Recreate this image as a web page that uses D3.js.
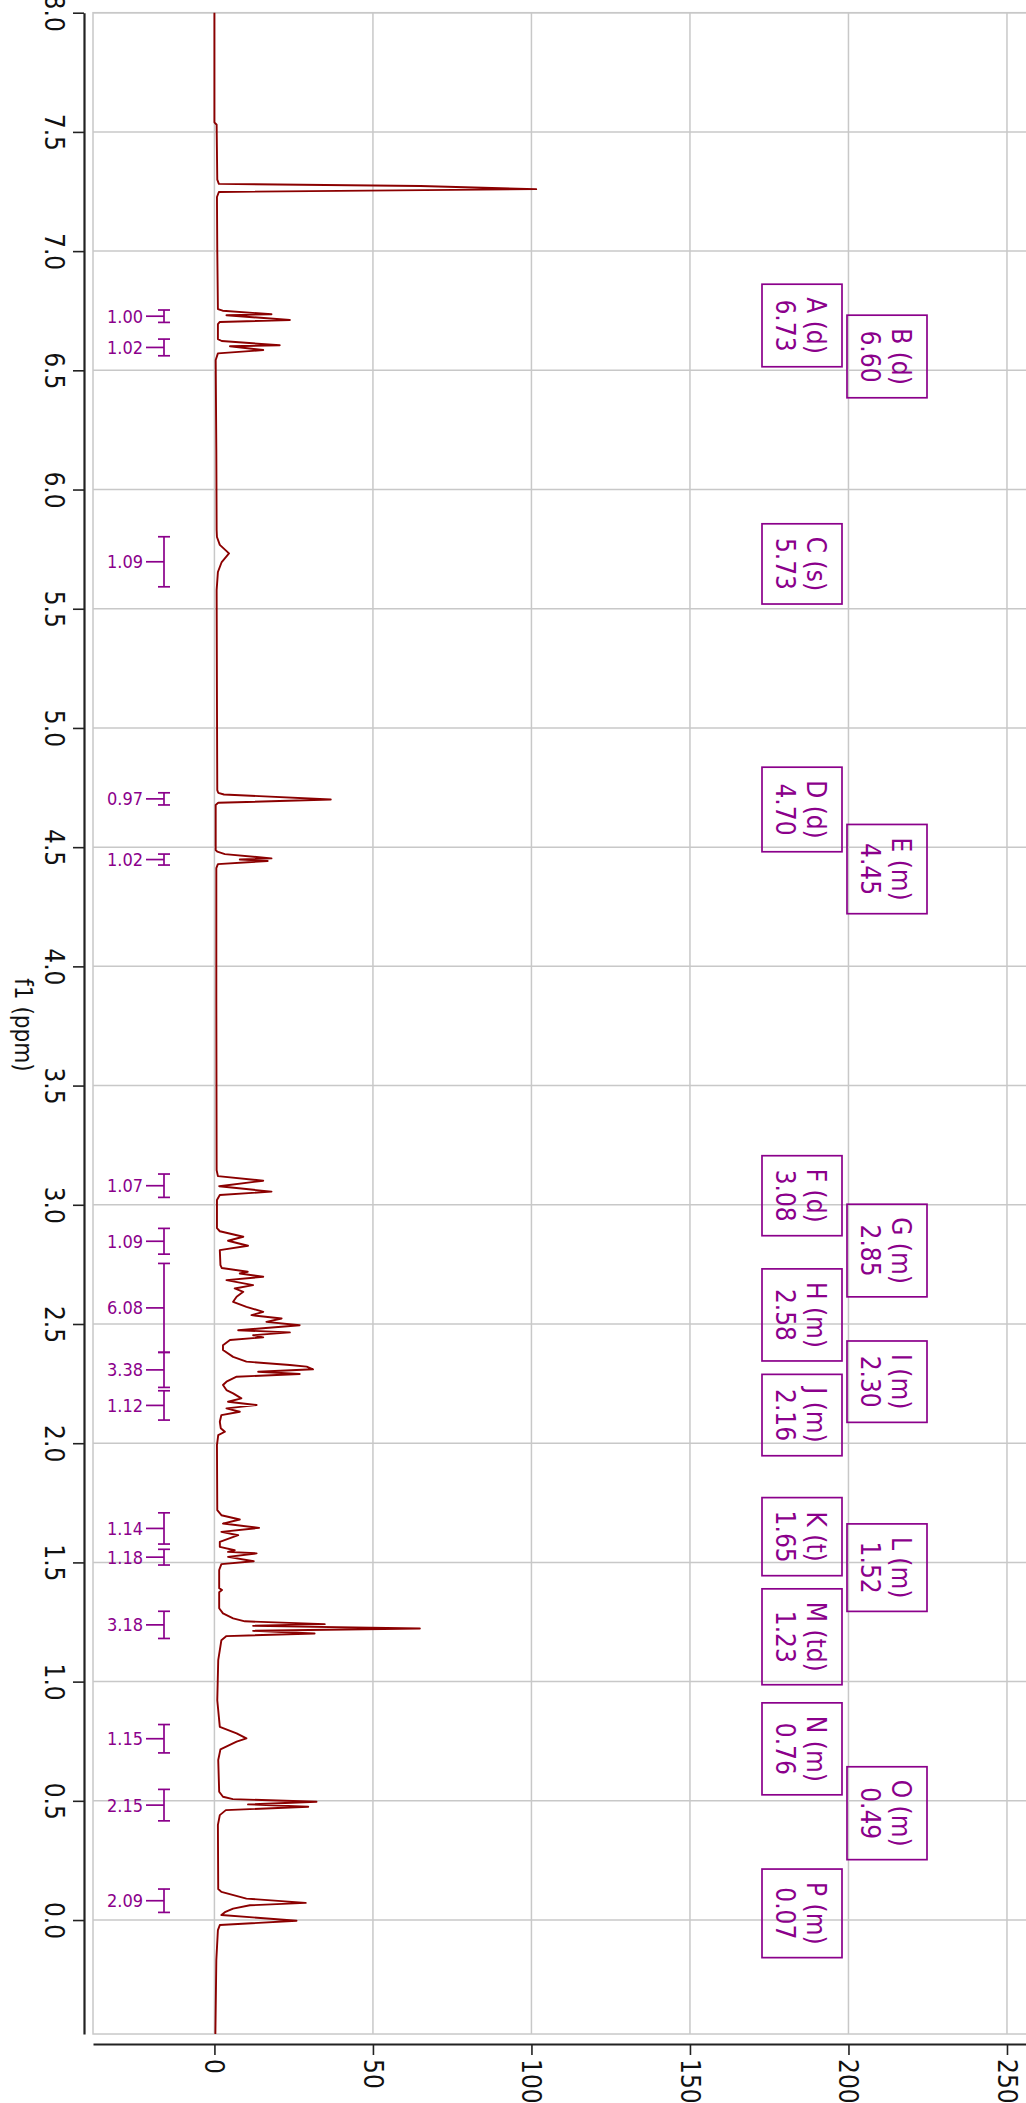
<!DOCTYPE html>
<html>
<head>
<meta charset="utf-8">
<title>1H NMR</title>
<script src="https://d3js.org/d3.v7.min.js"></script>
<style>
body { margin: 0; background: #fff; }
svg text { font-family: "DejaVu Sans Condensed", "DejaVu Sans", sans-serif; font-stretch: condensed; }
</style>
</head>
<body>
<script>
// spectrum trace: chemical shift (ppm) and intensity
var shift = [8.00, 7.54, 7.53, 7.30, 7.282, 7.273, 7.260, 7.248, 7.227, 7.005,
  6.757, 6.750, 6.735, 6.731, 6.711, 6.703, 6.694,
  6.631, 6.623, 6.605, 6.601, 6.585, 6.571, 6.543, 6.166,
  5.830, 5.801, 5.768, 5.732, 5.696, 5.654, 5.578, 5.117,
  4.739, 4.728, 4.721, 4.700, 4.686, 4.677, 4.488,
  4.481, 4.471, 4.453, 4.448, 4.442, 4.429, 4.412, 3.859,
  3.145, 3.120, 3.101, 3.078, 3.055, 3.041, 3.020,
  2.902, 2.889, 2.866, 2.849, 2.828, 2.810, 2.747,
  2.735, 2.719, 2.712, 2.698, 2.684, 2.663, 2.649, 2.635, 2.614, 2.593, 2.572,
  2.551, 2.537, 2.523, 2.509, 2.495, 2.481, 2.474, 2.465, 2.453, 2.444, 2.433,
  2.411, 2.391, 2.362, 2.342,
  2.328, 2.321, 2.310, 2.300, 2.290, 2.279, 2.258, 2.244,
  2.223, 2.209, 2.188, 2.174, 2.160, 2.146, 2.132, 2.118, 2.090, 2.063, 2.048, 2.034, 1.992,
  1.719, 1.698, 1.680, 1.663, 1.645, 1.628, 1.614, 1.586,
  1.565, 1.551, 1.544, 1.538, 1.523, 1.505, 1.493, 1.468,
  1.392, 1.384, 1.375, 1.308,
  1.286, 1.265, 1.253, 1.241, 1.234, 1.223, 1.213, 1.202, 1.191, 1.174, 1.090, 0.922,
  0.810, 0.783, 0.762, 0.748, 0.716, 0.671,
  0.538, 0.517, 0.507, 0.496, 0.485, 0.475, 0.461, 0.440, 0.399,
  0.130, 0.118, 0.090, 0.072, 0.062, 0.048, 0.033, 0.021, -0.003, -0.021, -0.042, -0.168, -0.478];
var intensity = [0.0, 0.0, 0.7, 0.9, 1.4, 65.0, 101.5, 1.4, 0.8, 0.9,
  1.1, 2.6, 18.0, 3.8, 23.8, 1.7, 1.1,
  1.1, 2.3, 20.6, 4.9, 15.4, 1.1, 0.4, 0.6,
  0.7, 0.8, 1.7, 4.6, 2.3, 1.1, 0.7, 0.8,
  0.9, 1.2, 3.0, 36.7, 1.2, 0.4, 0.4,
  0.9, 3.3, 18.0, 8.0, 16.8, 1.1, 0.6, 0.6,
  0.7, 1.1, 15.4, 1.5, 18.0, 1.7, 0.8,
  0.8, 1.7, 9.1, 4.3, 10.6, 1.7, 1.9,
  2.3, 10.5, 8.0, 15.4, 3.8, 12.2, 6.4, 9.1, 7.0, 5.9, 10.1,
  15.4, 11.7, 21.2, 16.4, 26.9, 14.3, 7.5, 23.8, 12.2, 15.4, 4.9,
  2.7, 2.7, 5.9, 10.1,
  23.8, 29.1, 31.1, 13.8, 26.9, 7.0, 3.8, 2.7,
  3.8, 5.9, 8.5, 4.3, 13.3, 3.8, 8.0, 2.2, 1.7, 2.0, 3.3, 1.2, 0.8,
  0.9, 2.2, 8.0, 2.7, 14.1, 2.2, 7.5, 1.7,
  1.7, 6.4, 4.3, 13.3, 4.3, 12.4, 2.2, 1.5,
  1.5, 2.4, 1.5, 1.5,
  2.7, 5.9, 9.6, 34.8, 12.2, 64.8, 12.2, 31.6, 3.8, 2.2, 1.2, 0.9,
  1.7, 7.0, 10.1, 7.0, 1.9, 1.2,
  1.5, 2.7, 5.8, 32.2, 10.6, 29.6, 3.6, 1.7, 1.1,
  1.2, 2.2, 10.1, 28.8, 11.2, 5.9, 3.3, 2.2, 25.9, 1.7, 1.1, 0.6, 0.3];

// integral regions
var integralFrom  = [6.753, 6.631, 5.802, 4.728, 4.471, 3.129, 2.901, 2.754, 2.381, 2.220, 1.708, 1.555, 1.295, 0.820, 0.548, 0.130];
var integralTo    = [6.701, 6.561, 5.592, 4.677, 4.425, 3.031, 2.793, 2.381, 2.234, 2.097, 1.577, 1.489, 1.181, 0.701, 0.416, 0.032];
var integralValue = ["1.00", "1.02", "1.09", "0.97", "1.02", "1.07", "1.09", "6.08", "3.38", "1.12", "1.14", "1.18", "3.18", "1.15", "2.15", "2.09"];

// multiplet labels
var peakName  = ["A", "B", "C", "D", "E", "F", "G", "H", "I", "J", "K", "L", "M", "N", "O", "P"];
var peakMult  = ["d", "d", "s", "d", "m", "d", "m", "m", "m", "m", "t", "m", "td", "m", "m", "m"];
var peakShift = ["6.73", "6.60", "5.73", "4.70", "4.45", "3.08", "2.85", "2.58", "2.30", "2.16", "1.65", "1.52", "1.23", "0.76", "0.49", "0.07"];

// axis ticks
var ppmTicks = [8.0, 7.5, 7.0, 6.5, 6.0, 5.5, 5.0, 4.5, 4.0, 3.5, 3.0, 2.5, 2.0, 1.5, 1.0, 0.5, 0.0];
var intTicks = [0, 50, 100, 150, 200, 250];

var W = 1026, H = 2103;
var grey = '#c8c8c8', purple = '#8b008b', red = '#8b0000';

var svg = d3.select('body').append('svg')
  .attr('width', W)
  .attr('height', H);

var y = d3.scaleLinear().domain([8.0, -0.478]).range([12.7, 2034]);
var x = d3.scaleLinear().domain([-38.3, 256]).range([93, 1026]);

var plotL = x(-38.3), plotR = W + 4, plotT = y(8.0), plotB = y(-0.478);

// grid
var grid = svg.append('g');
grid.selectAll('.hg').data(ppmTicks).enter().append('line')
  .attr('x1', plotL).attr('x2', plotR)
  .attr('y1', function(d) { return y(d); })
  .attr('y2', function(d) { return y(d); })
  .attr('stroke', grey).attr('stroke-width', 1.5);
grid.selectAll('.vg').data(intTicks).enter().append('line')
  .attr('y1', plotT).attr('y2', plotB)
  .attr('x1', function(d) { return x(d); })
  .attr('x2', function(d) { return x(d); })
  .attr('stroke', grey).attr('stroke-width', 1.5);
grid.append('rect')
  .attr('x', plotL).attr('y', plotT)
  .attr('width', plotR - plotL).attr('height', plotB - plotT)
  .attr('fill', 'none').attr('stroke', grey).attr('stroke-width', 1.5);

// ppm axis (left)
var ppmMinor = ppmTicks.map(function(d) { return d - 0.25; });
var yAxisMinor = d3.axisLeft(y).tickValues(ppmMinor).tickSize(6).tickSizeOuter(0).tickFormat('');
var yAxis = d3.axisLeft(y).tickValues(ppmTicks).tickSize(11).tickSizeOuter(0).tickFormat(d3.format('.1f'));
var gy = svg.append('g').attr('transform', 'translate(84,0)');
gy.call(yAxisMinor);
gy.call(yAxis);
gy.selectAll('.domain').attr('stroke', '#222').attr('stroke-width', 2.2);
gy.selectAll('.tick line').attr('stroke', '#222').attr('stroke-width', 1.6);
gy.selectAll('.tick text')
  .attr('x', null).attr('dy', null)
  .attr('text-anchor', 'middle')
  .attr('transform', 'translate(-39,0) rotate(90)')
  .attr('fill', '#111')
  .style('font-size', '26px');

svg.append('text')
  .attr('transform', 'translate(15,1025) rotate(90)')
  .attr('text-anchor', 'middle')
  .attr('fill', '#111')
  .style('font-size', '24px')
  .text('f1 (ppm)');

// intensity axis (bottom)
var intMinor = intTicks.map(function(d) { return d - 25; }).concat([225]);
var xAxisMinor = d3.axisBottom(x).tickValues(intMinor).tickSize(6).tickSizeOuter(0).tickFormat('');
var xAxis = d3.axisBottom(x).tickValues(intTicks).tickSize(11).tickSizeOuter(0);
var gx = svg.append('g').attr('transform', 'translate(0,2044)');
gx.call(xAxisMinor);
gx.call(xAxis);
gx.selectAll('.domain').attr('stroke', '#222').attr('stroke-width', 2.2);
gx.selectAll('.tick line').attr('stroke', '#222').attr('stroke-width', 1.6);
gx.selectAll('.tick text')
  .attr('y', null).attr('dy', null)
  .attr('text-anchor', 'start')
  .attr('transform', 'translate(-9.5,15) rotate(90)')
  .attr('fill', '#111')
  .style('font-size', '26px');

// spectrum
var pts = shift.map(function(s, i) { return [s, intensity[i]]; });
var line = d3.line()
  .x(function(d) { return x(d[1]); })
  .y(function(d) { return y(d[0]); });
svg.append('path')
  .datum(pts)
  .attr('d', line)
  .attr('fill', 'none')
  .attr('stroke', red)
  .attr('stroke-width', 1.9)
  .attr('stroke-linejoin', 'round');

// integrals
var ig = svg.append('g').selectAll('g').data(integralValue).enter().append('g');
ig.append('line')
  .attr('x1', 164).attr('x2', 164)
  .attr('y1', function(d, i) { return y(integralFrom[i]); })
  .attr('y2', function(d, i) { return y(integralTo[i]); });
ig.append('line')
  .attr('x1', 158).attr('x2', 170)
  .attr('y1', function(d, i) { return y(integralFrom[i]); })
  .attr('y2', function(d, i) { return y(integralFrom[i]); });
ig.append('line')
  .attr('x1', 158).attr('x2', 170)
  .attr('y1', function(d, i) { return y(integralTo[i]); })
  .attr('y2', function(d, i) { return y(integralTo[i]); });
ig.append('line')
  .attr('x1', 146).attr('x2', 164)
  .attr('y1', function(d, i) { return (y(integralFrom[i]) + y(integralTo[i])) / 2; })
  .attr('y2', function(d, i) { return (y(integralFrom[i]) + y(integralTo[i])) / 2; });
ig.selectAll('line').attr('stroke', purple).attr('stroke-width', 1.7);
ig.append('text')
  .attr('x', 143)
  .attr('y', function(d, i) { return (y(integralFrom[i]) + y(integralTo[i])) / 2; })
  .attr('dy', '0.36em')
  .attr('text-anchor', 'end')
  .attr('fill', purple)
  .style('font-size', '18px')
  .text(function(d) { return d; });

// multiplet label boxes, stacked in two columns when they would overlap
var colEnd = [-Infinity, -Infinity];
var boxW = 80, colX = [762, 847];
var lg = svg.append('g');
peakName.forEach(function(n, i) {
  var g = lg.append('g');
  var t1 = g.append('text').text(n + ' (' + peakMult[i] + ')');
  var t2 = g.append('text').text(peakShift[i]);
  g.selectAll('text')
    .attr('text-anchor', 'middle')
    .attr('fill', purple)
    .style('font-size', '26px');
  var len = Math.max(t1.node().getComputedTextLength(), t2.node().getComputedTextLength());
  var h = len + 26;
  var cy = y(+peakShift[i]) + 10;
  var top = cy - h / 2;
  var col = top > colEnd[0] ? 0 : 1;
  colEnd[col] = top + h;
  var bx = colX[col];
  g.append('rect')
    .attr('x', bx).attr('y', top)
    .attr('width', boxW).attr('height', h)
    .attr('fill', 'none')
    .attr('stroke', purple)
    .attr('stroke-width', 1.7);
  t1.attr('transform', 'translate(' + (bx + 45) + ',' + cy + ') rotate(90)');
  t2.attr('transform', 'translate(' + (bx + 14) + ',' + cy + ') rotate(90)');
});
</script>
</body>
</html>
